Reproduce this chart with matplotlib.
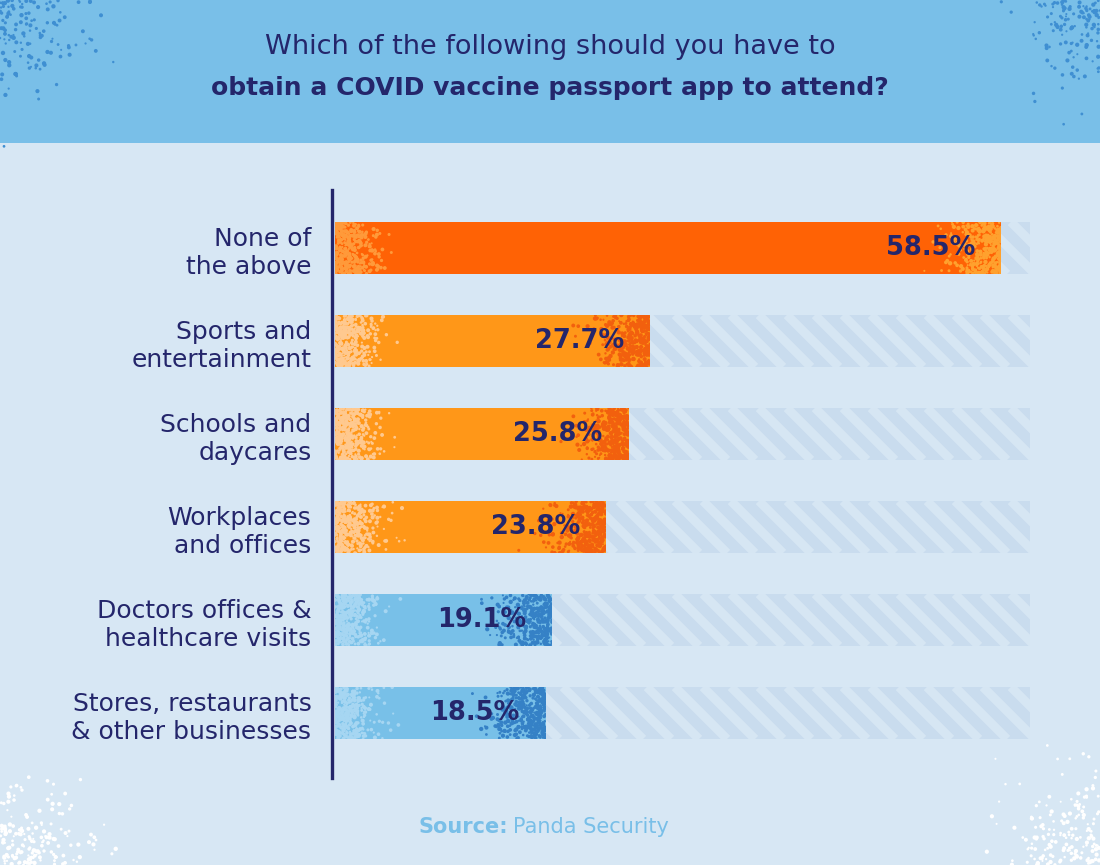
import matplotlib.pyplot as plt
import numpy as np
from matplotlib.collections import LineCollection
from matplotlib.patches import Rectangle

# ---------------- data
categories = ['None of\nthe above', 'Sports and\nentertainment', 'Schools and\ndaycares',
              'Workplaces\nand offices', 'Doctors offices &\nhealthcare visits',
              'Stores, restaurants\n& other businesses']
values = [58.5, 27.7, 25.8, 23.8, 19.1, 18.5]
bar_kind = ['hot', 'warm', 'warm', 'warm', 'cool', 'cool']

title_1 = 'Which of the following should you have to'
title_2 = 'obtain a COVID vaccine passport app to attend?'

# ---------------- colours
BG = '#d7e7f4'
HEAD = '#79bfe8'
NAVY = '#24266b'
TRACK = '#c9dcee'
STRIPE = '#d6e6f3'
FILL = {'hot': '#ff6205', 'warm': '#ff9718', 'cool': '#78c0e8'}
DOT_L = {'hot': '#ff9a3a', 'warm': '#ffc98f', 'cool': '#a6d6f2'}
DOT_R = {'hot': '#ffa12e', 'warm': '#f2600e', 'cool': '#3581c6'}

plt.rcParams['font.family'] = ['DejaVu Sans']

W, H = 1100, 865
fig = plt.figure(figsize=(W / 100, H / 100), dpi=100)
fig.patch.set_facecolor(BG)

# background layer in pixel coords
bg = fig.add_axes([0, 0, 1, 1], zorder=0)
bg.set_xlim(0, W)
bg.set_ylim(H, 0)
bg.axis('off')
bg.add_patch(Rectangle((0, 0), W, 143, color=HEAD, lw=0))

rng = np.random.default_rng(7)


def corner_dots(cx, cy, sx, sy, n, color, spread=(55, 40)):
    # speckle texture fading away from a corner
    x = cx + sx * np.abs(rng.normal(0, 1, n)) * spread[0]
    y = cy + sy * np.abs(rng.normal(0, 1, n)) * spread[1]
    bg.scatter(x, y, s=rng.uniform(2, 10, n), color=color, lw=0)


corner_dots(0, 0, 1, 1, 130, '#3f8fd2', (45, 45))
corner_dots(W, 0, -1, 1, 130, '#3f8fd2', (35, 45))
corner_dots(0, H, 1, -1, 170, 'white', (45, 35))
corner_dots(W, H, -1, -1, 170, 'white', (40, 40))

bg.text(W / 2, 47, title_1, ha='center', va='center', fontsize=19.5, color=NAVY)
bg.text(W / 2, 88, title_2, ha='center', va='center', fontsize=18, color=NAVY,
        fontweight='bold')
bg.text(508, 827, 'Source:', ha='right', va='center', fontsize=15,
        color=HEAD, fontweight='bold')
bg.text(513, 827, 'Panda Security', ha='left', va='center', fontsize=15,
        color=HEAD)

# ---------------- chart axes
x0, x1, ytop, ybot = 335, 1030, 190, 778
ax = fig.add_axes([x0 / W, (H - ybot) / H, (x1 - x0) / W, (ybot - ytop) / H], zorder=1)
ax.patch.set_alpha(0)
for s in ['top', 'right', 'bottom']:
    ax.spines[s].set_visible(False)
ax.spines['left'].set_color(NAVY)
ax.spines['left'].set_linewidth(2.4)
ax.spines['left'].set_position(('outward', 2))

XMAX = 61.05
ax.set_xlim(0, XMAX)
pos = np.arange(len(values))
ax.set_ylim(5 + 65 / 93, -58 / 93)
bh = 0.56

xpp = XMAX / (x1 - x0)
ypp = (5 + 65 / 93 + 58 / 93) / (ybot - ytop)

tracks = ax.barh(pos, [XMAX] * len(values), height=bh, color=TRACK, lw=0, zorder=1)
for r in tracks:
    segs = []
    yb, yt = r.get_y(), r.get_y() + bh
    dx = bh / ypp * xpp
    for xs in np.arange(-dx, XMAX, 28 * xpp):
        segs.append([(xs, yb), (xs + dx, yt)])
    lc = LineCollection(segs, colors=STRIPE, linewidths=6.5, zorder=1.5)
    ax.add_collection(lc)
    lc.set_clip_path(r)

bars = ax.barh(pos, values, height=bh, color=[FILL[k] for k in bar_kind], lw=0, zorder=2)

for r, k, v in zip(bars, bar_kind, values):
    yb = r.get_y()
    n = 380
    # light speckles at the start of the bar
    xl = np.abs(rng.normal(0, 1, n)) * 20 * xpp
    yl = yb + rng.uniform(0, bh, n)
    keep = xl < v
    sc = ax.scatter(xl[keep], yl[keep], s=rng.uniform(2, 9, keep.sum()), color=DOT_L[k],
                    lw=0, zorder=3)
    sc.set_clip_path(r)
    # darker speckles at the end of the bar
    xr = v - np.abs(rng.normal(0, 1, n)) * 24 * xpp
    yr = yb + rng.uniform(0, bh, n)
    sc = ax.scatter(xr, yr, s=rng.uniform(2, 10, n), color=DOT_R[k], lw=0, zorder=3)
    sc.set_clip_path(r)
    ax.text(v - 26 * xpp, r.get_y() + bh / 2, f'{v}%', ha='right', va='center',
            fontsize=18.5, fontweight='bold', color=NAVY, zorder=4)

ax.set_yticks(pos, categories)
ax.tick_params(axis='y', length=0, pad=15, labelsize=18, labelcolor=NAVY)
for lab in ax.get_yticklabels():
    lab.set_linespacing(1.22)
ax.set_xticks([])

fig.savefig('out.png', dpi=100, facecolor=BG)
